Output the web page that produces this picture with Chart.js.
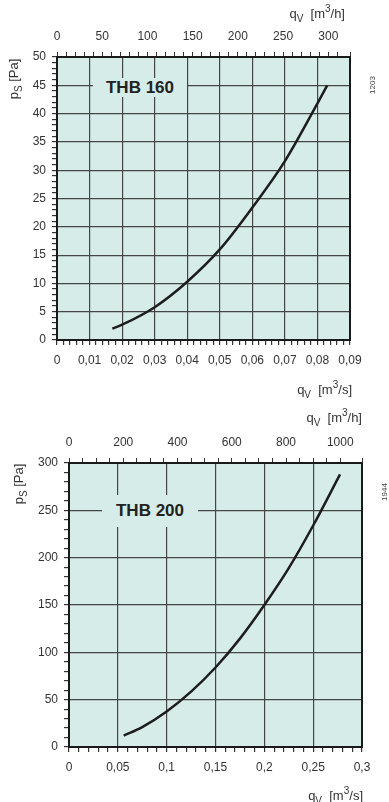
<!DOCTYPE html>
<html>
<head>
<meta charset="utf-8">
<script src="https://cdn.jsdelivr.net/npm/chart.js@4/dist/chart.umd.min.js"></script>
<style>
body { margin: 0; background: #fff; font-family: "Liberation Sans", Arial, sans-serif; color: #333; }
#wrap { position: relative; width: 389px; height: 802px; overflow: hidden; }
canvas { position: absolute; left: 0; }
.t { position: absolute; font-size: 13px; white-space: nowrap; line-height: 1; }
.t sub { font-size: 10px; vertical-align: -4px; }
.t sup { font-size: 10px; vertical-align: 6px; }
.rot { transform: translate(-50%, -50%) rotate(-90deg); }
.box { position: absolute; background: #d6ece9; font-weight: bold; font-size: 17px; color: #222; text-align: center; }
.code { position: absolute; font-size: 8px; color: #444; transform: translate(-50%, -50%) rotate(-90deg); }
</style>
</head>
<body>
<div id="wrap">
  <canvas id="c160" width="389" height="380" style="top:0"></canvas>
  <canvas id="c200" width="389" height="402" style="top:400px"></canvas>

  <div class="t rot" style="left:15px;top:79px">p<sub>S</sub> [Pa]</div>
  <div class="t" style="right:44px;top:4px">q<sub>V</sub>&nbsp; [m<sup>3</sup>/h]</div>
  <div class="t" style="right:37px;top:380px">q<sub>V</sub>&nbsp; [m<sup>3</sup>/s]</div>
  <div class="box" style="left:93px;top:78px;width:94px;height:19px;line-height:19px">THB 160</div>
  <div class="code" style="left:372px;top:85px">1203</div>

  <div class="t rot" style="left:20px;top:484px">p<sub>S</sub> [Pa]</div>
  <div class="t" style="right:27px;top:408px">q<sub>V</sub>&nbsp; [m<sup>3</sup>/h]</div>
  <div class="t" style="right:26px;top:786px">q<sub>V</sub>&nbsp; [m<sup>3</sup>/s]</div>
  <div class="box" style="left:102px;top:495px;width:96px;height:32px;line-height:32px">THB 200</div>
  <div class="code" style="left:384px;top:492px">1944</div>
</div>
<script>
// THB 160 curve (m3/s, Pa)
const thb160Flow = [0.017, 0.02, 0.03, 0.04, 0.05, 0.06, 0.07, 0.08, 0.083];
const thb160Pressure = [2.0, 2.7, 5.8, 10.3, 16.0, 23.4, 31.6, 41.8, 45.0];
// THB 200 curve
const thb200Flow = [0.056, 0.075, 0.1, 0.125, 0.15, 0.175, 0.2, 0.225, 0.25, 0.2775];
const thb200Pressure = [12, 21, 37.5, 58.5, 84, 114.5, 150, 189, 234, 288];

// labelled ticks
const thb160FlowTicks = [0, 0.01, 0.02, 0.03, 0.04, 0.05, 0.06, 0.07, 0.08, 0.09];
const thb160HourTicks = [0, 50, 100, 150, 200, 250, 300];
const thb160PressTicks = [0, 5, 10, 15, 20, 25, 30, 35, 40, 45, 50];
const thb200FlowTicks = [0, 0.05, 0.1, 0.15, 0.2, 0.25, 0.3];
const thb200HourTicks = [0, 200, 400, 600, 800, 1000];
const thb200PressTicks = [0, 50, 100, 150, 200, 250, 300];

const BG = '#d6ece9';
Chart.defaults.font.family = '"Liberation Sans", Arial, sans-serif';
Chart.defaults.font.size = 12;
Chart.defaults.color = '#333';

const isMajor = (v, list) => list.some(m => Math.abs(m - v) < 1e-9);
const fmt = v => v === 0 ? '0' : String(+v.toFixed(4)).replace('.', ',');

function axis(pos, min, max, step, majors, size, extra) {
    return Object.assign({
        type: 'linear',
        position: pos,
        min, max,
        ticks: {
            stepSize: step,
            autoSkip: false,
            maxRotation: 0,
            maxTicksLimit: 1000,
            padding: pos === 'left' ? 6 : 8,
            callback: v => isMajor(v, majors) ? fmt(v) : ''
        },
        grid: {
            color: c => (c.tick && isMajor(c.tick.value, majors)) ? '#454545' : 'rgba(0,0,0,0)',
            lineWidth: 1.2,
            tickColor: '#333',
            tickLength: 5
        },
        border: { color: '#1a1a1a', width: 2 },
        afterFit: s => { if (s.isHorizontal()) s.height = size; else s.width = size; }
    }, extra || {});
}

const plotBg = {
    id: 'plotBg',
    beforeDraw(chart) {
        const a = chart.chartArea, ctx = chart.ctx;
        ctx.save();
        ctx.fillStyle = BG;
        ctx.fillRect(a.left, a.top, a.right - a.left, a.bottom - a.top);
        ctx.restore();
    }
};

function makeChart(id, flow, press, xr, hr, yr, sizes, padRight) {
    new Chart(document.getElementById(id), {
        type: 'line',
        data: {
            datasets: [{
                data: flow.map((q, i) => ({ x: q, y: press[i] })),
                borderColor: '#1d1d1d',
                borderWidth: 2.5,
                pointRadius: 0,
                cubicInterpolationMode: 'monotone',
                fill: false
            }]
        },
        options: {
            responsive: false,
            animation: false,
            devicePixelRatio: 1,
            layout: { padding: { top: 0, right: padRight, left: 0, bottom: 0 } },
            plugins: { legend: { display: false }, tooltip: { enabled: false } },
            scales: {
                x: axis('bottom', xr[0], xr[1], xr[2], xr[3], sizes[0], {}),
                x2: axis('top', hr[0], hr[1], hr[2], hr[3], sizes[1], {
                    grid: { drawOnChartArea: false, tickColor: '#333', tickLength: 5 }
                }),
                y: axis('left', yr[0], yr[1], yr[2], yr[3], sizes[2], {}),
                yR: {
                    type: 'linear', position: 'right', min: yr[0], max: yr[1],
                    ticks: { display: false },
                    grid: { display: false, drawTicks: false },
                    border: { color: '#1a1a1a', width: 2 },
                    afterFit: s => { s.width = 0; }
                }
            }
        },
        plugins: [plotBg]
    });
}

makeChart('c160', thb160Flow, thb160Pressure,
    [0, 0.09, 0.002, thb160FlowTicks],
    [0, 324, 10, thb160HourTicks],
    [0, 50, 1, thb160PressTicks],
    [40, 57, 57], 39);

makeChart('c200', thb200Flow, thb200Pressure,
    [0, 0.3, 0.01, thb200FlowTicks],
    [0, 1080, 50, thb200HourTicks],
    [0, 300, 10, thb200PressTicks],
    [55, 63, 69], 27);
</script>
</body>
</html>
